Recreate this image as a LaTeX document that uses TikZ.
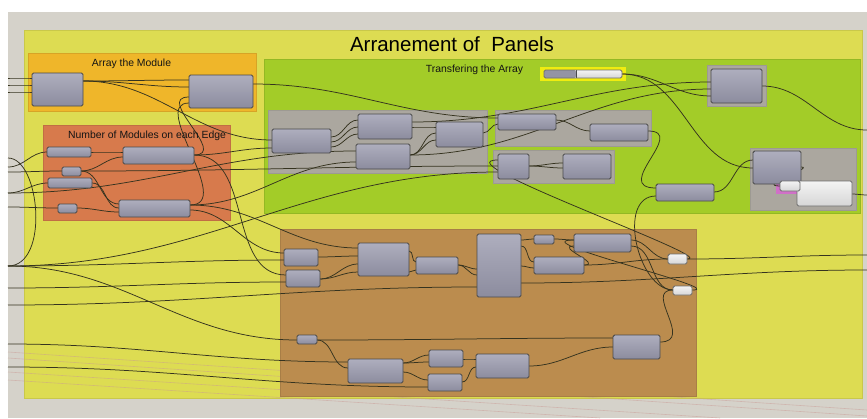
\documentclass[tikz,border=0pt]{standalone}
\usepackage{fontspec}
\setmainfont{Liberation Sans}

\pgfdeclarelayer{groups}
\pgfdeclarelayer{wires}
\pgfsetlayers{groups,wires,main}

\definecolor{canvas}{HTML}{D5D2CA}
\definecolor{gyellow}{HTML}{DDDC52}
\definecolor{gyellowedge}{HTML}{C9C84A}
\definecolor{gorange}{HTML}{EFB62A}
\definecolor{gred}{HTML}{D77A4C}
\definecolor{ggreen}{HTML}{A3CC28}
\definecolor{ggrey}{HTML}{ABA79F}
\definecolor{gbrown}{HTML}{BB8C4E}
\definecolor{gpink}{HTML}{D070C8}
\definecolor{comptop}{HTML}{AEAEBE}
\definecolor{compbot}{HTML}{8C8C9E}
\definecolor{compedge}{HTML}{4A4A4A}
\definecolor{paletop}{HTML}{F4F4F4}
\definecolor{palebot}{HTML}{D6D6D6}
\definecolor{paleedge}{HTML}{6E6E6E}
\definecolor{slidedark}{HTML}{9494A4}
\definecolor{sliderim}{HTML}{F0EC10}
\definecolor{wirec}{HTML}{35331F}
\definecolor{faintc}{HTML}{C99A94}
\definecolor{labeltext}{HTML}{141414}

\tikzset{
  comp/.style={draw=compedge, line width=0.9pt, rounded corners=1.6pt,
    top color=comptop, bottom color=compbot, inner sep=0pt, outer sep=0pt},
  pale/.style={comp, draw=paleedge, top color=paletop, bottom color=palebot},
  freeend/.style={inner sep=0pt, outer sep=0pt, minimum size=0pt},
  wire/.style={draw=wirec, line width=0.75pt},
  faint/.style={draw=faintc, line width=0.6pt, opacity=0.5},
  grp/.style={line width=0.6pt},
  lbl/.style={font=\fontsize{10.4}{12}\selectfont, text=labeltext, anchor=base, inner sep=0pt},
  title/.style={font=\fontsize{20.5}{24}\selectfont, text=black, anchor=base, inner sep=0pt}
}

% component box given by its corners
\newcommand\comp[6][comp]{%
  \node[#1, minimum width={(#5-#3)*1pt}, minimum height={(#6-#4)*1pt}] (#2)
    at ({(#3+#5)/2},{(#4+#6)/2}) {};}
% forward wire: output of #2 (offset #3 from top) to input of #4 (offset #5)
\newcommand\wire[5][]{\draw[wire,#1] ([shift={(0,#3)}]#2.north east)
  to[out=0,in=180] ([shift={(0,#5)}]#4.north west);}
% wire with given tangent lengths
\newcommand\lwire[7][]{\draw[wire,#1] ([shift={(0,#3)}]#2.north east)
  .. controls +(#6,0) and +(-#7,0) .. ([shift={(0,#5)}]#4.north west);}

\begin{document}
\begin{tikzpicture}[x=1pt,y=-1pt]
\useasboundingbox (0,0) rectangle (867,418);

\begin{pgfonlayer}{groups}
  \fill[white] (0,0) rectangle (867,418);
  \fill[canvas] (8,12) rectangle (867,418);
  \path[grp, fill=gyellow, draw=gyellowedge] (24,30) rectangle (862,398);
  % faint wires running below the groups
  \draw[faint] (8,352) -- (867,410);
  \draw[faint] (8,358) -- (867,416);
  \draw[faint] (8,372) -- (720,418);
  \draw[faint] (8,380) -- (600,418);
  \path[grp, fill=gorange, draw=gorange!90!black] (28,53) rectangle (256,111);
  \path[grp, fill=gred, draw=gred!90!black] (43,125) rectangle (230,220);
  \path[grp, fill=ggreen, draw=ggreen!90!black] (264,59) rectangle (860,213);
  \path[grp, fill=ggrey, draw=ggrey!92!black] (268,110) rectangle (487,173);
  \path[grp, fill=ggrey, draw=ggrey!92!black] (495,110) rectangle (651,146);
  \path[grp, fill=ggrey, draw=ggrey!92!black] (493,150) rectangle (614,183);
  \path[grp, fill=ggrey, draw=ggrey!92!black] (707,65) rectangle (766,106);
  \path[grp, fill=ggrey, draw=ggrey!92!black] (750,148) rectangle (856,210);
  \fill[gpink] (776,180) rectangle (798,194);
  \path[grp, fill=gbrown, draw=gbrown!90!black] (280,229) rectangle (696,396);
  \fill[sliderim] (540,67) rectangle (626,81);
\end{pgfonlayer}

% group titles
\node[title] (ttl) at (452,51) {Arranement of~~Panels};
\node[lbl] (lbarr) at (131.5,66.8) {Array the Module};
\node[lbl] (lbnum) at (147,138.8) {Number of Modules on each Edge};
\node[lbl] (lbtra) at (474.5,72.6) {Transfering the Array};

% components
\comp{A1}{32}{73}{83}{106}
\comp{A2}{189}{75}{253}{108}
\comp{N1}{47}{147}{91}{157}
\comp{N2}{123}{147}{194}{164}
\comp{N3}{62}{167}{81}{176}
\comp{N4}{48}{178}{92}{188}
\comp{N5}{58}{204}{77}{213}
\comp{N6}{119}{200}{190}{217}
\comp{T1}{272}{129}{331}{153}
\comp{T2}{358}{114}{412}{139}
\comp{T3}{356}{144}{410}{169}
\comp{T4}{436}{122}{483}{147}
\comp{T5}{498}{114}{556}{130}
\comp{T6}{590}{124}{648}{141}
\comp{T7}{498}{154}{529}{179}
\comp{T8}{563}{154}{611}{179}
\comp{T9}{711}{69}{762}{103}
\comp{T10}{656}{184}{714}{201}
\comp{T11}{753}{151}{801}{184}
\comp[pale]{W2}{797}{181}{852}{206}
\comp[pale]{W1}{780}{181}{800}{191}
\comp[pale, path picture={\fill[slidedark] (path picture bounding box.north west)
  rectangle ([xshift=32pt]path picture bounding box.south west);
  \draw[compedge, line width=0.6pt] ([xshift=32pt]path picture bounding box.north west)
  -- ([xshift=32pt]path picture bounding box.south west);}]{SL}{544}{70}{622}{78}
\comp{B1}{284}{249}{318}{266}
\comp{B2}{286}{270}{320}{287}
\comp{B3}{358}{243}{409}{276}
\comp{B4}{416}{257}{458}{274}
\comp{B5}{477}{234}{521}{297}
\comp{B6}{534}{235}{554}{244}
\comp{B7}{534}{257}{584}{274}
\comp{B8}{574}{234}{631}{252}
\comp[pale]{W3}{668}{254}{687}{264}
\comp[pale]{W4}{673}{286}{692}{295}
\comp{B9}{297}{335}{317}{344}
\comp{B10}{348}{359}{403}{383}
\comp{B11}{429}{350}{463}{367}
\comp{B12}{428}{374}{462}{391}
\comp{B13}{476}{354}{529}{378}
\comp{B14}{613}{335}{660}{359}

% loose wire ends at the canvas edges
\node[freeend] (lA) at (8,78) {};
\node[freeend] (lB) at (8,85) {};
\node[freeend] (lC) at (8,92) {};
\node[freeend] (lD) at (8,158) {};
\node[freeend] (lE) at (8,167) {};
\node[freeend] (lF) at (8,172) {};
\node[freeend] (lG) at (8,193) {};
\node[freeend] (lH) at (8,207) {};
\node[freeend] (lI) at (8,266) {};
\node[freeend] (lJ) at (8,288) {};
\node[freeend] (lK) at (8,305) {};
\node[freeend] (lL) at (8,344) {};
\node[freeend] (lM) at (8,367) {};
\node[freeend] (rA) at (867,130) {};
\node[freeend] (rB) at (867,195) {};
\node[freeend] (rC) at (867,255) {};
\node[freeend] (rD) at (867,270) {};

\begin{pgfonlayer}{wires}
  % from the left edge
  \wire{lA}{0}{A1}{5}
  \wire{lB}{0}{A1}{12}
  \wire{lC}{0}{A1}{19}
  \wire{lE}{0}{N1}{5}
  \wire{lF}{0}{N3}{4}
  \wire{lG}{0}{N4}{5}
  \wire{lH}{0}{N5}{4}
  \wire{lG}{0}{T3}{7}
  \wire{lI}{0}{B1}{11}
  \wire{lI}{0}{T7}{18}
  \wire{lI}{0}{B9}{5}
  \wire{lJ}{0}{B2}{12}
  \wire{lK}{0}{B5}{53}
  \wire{lL}{0}{B10}{3}
  \wire{lM}{0}{B12}{13}
  \draw[wire] (lI) .. controls +(42,0) and +(32,0) .. (lD);
  % array the module / number of modules
  \wire{A1}{8}{A2}{5}
  \wire{A1}{8}{A2}{12}
  \wire{A1}{8}{T1}{11}
  \lwire{N2}{8}{A2}{22}{35}{35}
  \lwire{N6}{5}{A2}{28}{45}{40}
  \wire{N1}{5}{N2}{5}
  \wire{N3}{4}{N2}{10}
  \wire{N3}{4}{N6}{4}
  \wire{N4}{5}{N6}{8}
  \wire{N5}{4}{N6}{12}
  \wire{N3}{4}{T7}{12}
  \wire{N2}{8}{T1}{19}
  \wire{N6}{5}{T3}{18}
  \wire{N2}{8}{B2}{5}
  \wire{N6}{10}{B1}{4}
  \wire{N6}{5}{B3}{5}
  % transfering the array
  \wire{A2}{9}{T5}{4}
  \wire{T1}{8}{T2}{6}
  \wire{T1}{13}{T2}{13}
  \wire{T1}{18}{T2}{20}
  \wire{T2}{13}{T4}{5}
  \wire{T3}{11}{T4}{11}
  \wire{T3}{11}{T4}{18}
  \wire{T2}{8}{T9}{13}
  \wire{T3}{11}{T9}{20}
  \wire{T4}{11}{T5}{10}
  \wire{T5}{6}{T6}{7}
  \wire{T7}{12}{T8}{9}
  \wire{T7}{12}{T8}{14}
  \lwire{T6}{7}{T10}{4}{40}{45}
  \wire{T10}{8}{T11}{9}
  \wire{SL}{4}{T9}{27}
  \wire{SL}{4}{T11}{17}
  \wire{T9}{17}{rA}{0}
  \lwire{T11}{16}{W1}{5}{15}{25}
  \wire{W2}{13}{rB}{0}
  % lower group
  \wire{B1}{8}{B3}{13}
  \wire{B2}{9}{B3}{21}
  \wire{B2}{9}{B3}{29}
  \wire{B3}{8}{B4}{5}
  \wire{B3}{29}{B4}{13}
  \wire{B4}{8}{B5}{35}
  \wire{B4}{8}{B5}{41}
  \wire{B5}{6}{B6}{4}
  \wire{B5}{12}{B7}{5}
  \wire{B5}{32}{B7}{11}
  \wire{B6}{4}{B8}{6}
  \lwire{B7}{8}{B8}{12}{20}{20}
  \wire{B5}{49}{rD}{0}
  \wire{B7}{8}{W3}{5}
  \wire{B8}{6}{W3}{5}
  \wire{B8}{12}{W4}{4}
  \wire{W3}{5}{rC}{0}
  \lwire{W3}{5}{T7}{6}{35}{60}
  \lwire{W4}{4}{B8}{6}{40}{55}
  \draw[wire] ([shift={(0,12)}]T10.north west) .. controls +(-40,0) and +(-35,0)
    .. ([shift={(0,4)}]W4.north west);
  \lwire{B14}{7}{W4}{4}{35}{30}
  \wire{B9}{5}{B14}{3}
  \wire{B9}{5}{B10}{9}
  \wire{B10}{4}{B11}{5}
  \wire{B10}{4}{B11}{12}
  \wire{B10}{13}{B12}{6}
  \wire{B11}{9}{B13}{5}
  \wire{B12}{8}{B13}{13}
  \wire{B13}{12}{B14}{12}
\end{pgfonlayer}
\end{tikzpicture}
\end{document}
